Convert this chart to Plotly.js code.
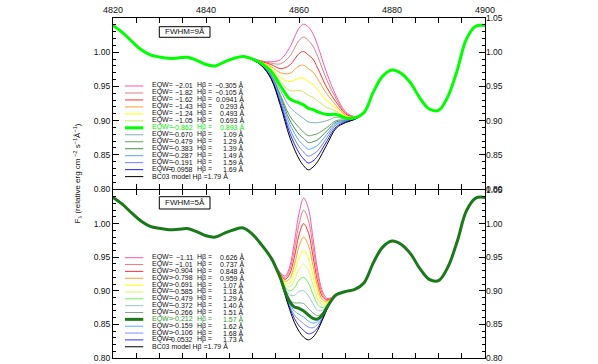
<!DOCTYPE html>
<html>
<head>
<meta charset="utf-8">
<script src="https://cdn.plot.ly/plotly-3.0.1.min.js"></script>
<style>html,body{margin:0;padding:0;background:#fff;}</style>
</head>
<body>
<div id="chart" style="width:598px;height:364px;"></div>
<script>
// continuum wings, shared by every curve (wavelength in Å, relative flux)
var wingLeftX = [4820, 4822, 4824, 4826, 4828, 4830, 4832, 4834, 4836, 4838, 4840, 4842, 4844, 4846, 4848];
var wingLeftY = [1.039, 1.029, 1.016, 1.004, 0.996, 0.993, 0.991, 0.9915, 0.9927, 0.988, 0.982, 0.980, 0.986, 0.991, 0.9936];
var wingRightX = [4874, 4876, 4878, 4880, 4882, 4884, 4886, 4888, 4890, 4892, 4894, 4896, 4898, 4900];
var wingRightY = [0.912, 0.942, 0.965, 0.974, 0.969, 0.955, 0.933, 0.917, 0.915, 0.935, 0.973, 1.019, 1.038, 1.039];

// H-beta region, FWHM = 9 Å panel
var lineX9 = [4850, 4852, 4854, 4856, 4858, 4860, 4861, 4862, 4863, 4864, 4866, 4868, 4870, 4872];
var flux9 = [
  [0.991, 0.987, 0.986, 0.989, 1.007, 1.035, 1.041, 1.037, 1.027, 1.010, 0.969, 0.936, 0.913, 0.906],
  [0.990, 0.987, 0.984, 0.983, 0.994, 1.017, 1.022, 1.017, 1.009, 0.994, 0.959, 0.932, 0.911, 0.906],
  [0.990, 0.986, 0.982, 0.976, 0.981, 0.998, 1.001, 0.996, 0.990, 0.977, 0.948, 0.927, 0.910, 0.905],
  [0.990, 0.985, 0.979, 0.970, 0.969, 0.980, 0.981, 0.976, 0.971, 0.961, 0.939, 0.922, 0.908, 0.905],
  [0.990, 0.985, 0.977, 0.963, 0.957, 0.962, 0.962, 0.957, 0.953, 0.945, 0.929, 0.918, 0.907, 0.905],
  [0.990, 0.984, 0.974, 0.957, 0.944, 0.944, 0.942, 0.937, 0.934, 0.929, 0.919, 0.914, 0.905, 0.904],
  [0.990, 0.983, 0.972, 0.951, 0.932, 0.926, 0.923, 0.918, 0.916, 0.913, 0.909, 0.909, 0.904, 0.904],
  [0.990, 0.982, 0.970, 0.944, 0.920, 0.908, 0.903, 0.898, 0.897, 0.897, 0.900, 0.905, 0.902, 0.903],
  [0.989, 0.982, 0.967, 0.938, 0.907, 0.890, 0.883, 0.878, 0.879, 0.881, 0.890, 0.900, 0.901, 0.903],
  [0.989, 0.981, 0.966, 0.935, 0.901, 0.880, 0.874, 0.868, 0.869, 0.872, 0.885, 0.898, 0.900, 0.903],
  [0.989, 0.981, 0.965, 0.932, 0.895, 0.871, 0.864, 0.858, 0.860, 0.864, 0.880, 0.896, 0.899, 0.903],
  [0.989, 0.981, 0.963, 0.928, 0.888, 0.862, 0.854, 0.848, 0.851, 0.856, 0.875, 0.894, 0.899, 0.902],
  [0.989, 0.980, 0.962, 0.925, 0.882, 0.853, 0.844, 0.838, 0.841, 0.848, 0.870, 0.891, 0.898, 0.902]
];
var model9 = [0.989, 0.980, 0.961, 0.922, 0.876, 0.844, 0.834, 0.828, 0.832, 0.840, 0.865, 0.889, 0.897, 0.902];
var eqw9 = ['−2.01', '−1.82', '−1.62', '−1.43', '−1.24', '−1.05', '−0.862', '−0.670', '−0.479', '−0.383', '−0.287', '−0.191', '−0.0958'];
var hb9 = ['−0.305', '−0.105', '0.0941', '0.293', '0.493', '0.693', '0.893', '1.09', '1.29', '1.39', '1.49', '1.59', '1.69'];
var colors9 = ['#ff55b0', '#e08080', '#ff3030', '#ffa030', '#ffff00', '#c8ee55', '#00ff00', '#7fb2b2', '#5fa05f', '#4a904a', '#50a8ff', '#7080ff', '#2020ff'];
var best9 = 6;

// H-beta region, FWHM = 5 Å panel
var lineX5 = [4850, 4852, 4854, 4855, 4856, 4857, 4858, 4859, 4860, 4861, 4862, 4863, 4864, 4865, 4866, 4867, 4868, 4870, 4872];
var flux5 = [
  [0.984, 0.968, 0.950, 0.937, 0.927, 0.922, 0.936, 0.972, 1.015, 1.038, 1.023, 0.979, 0.931, 0.900, 0.889, 0.890, 0.895, 0.899, 0.902],
  [0.984, 0.968, 0.950, 0.937, 0.926, 0.919, 0.931, 0.961, 0.999, 1.020, 1.005, 0.966, 0.923, 0.896, 0.887, 0.890, 0.895, 0.899, 0.902],
  [0.984, 0.968, 0.950, 0.936, 0.925, 0.917, 0.925, 0.950, 0.983, 1.000, 0.987, 0.952, 0.914, 0.892, 0.886, 0.889, 0.895, 0.899, 0.902],
  [0.984, 0.968, 0.949, 0.936, 0.924, 0.914, 0.918, 0.938, 0.966, 0.980, 0.968, 0.938, 0.906, 0.887, 0.884, 0.889, 0.895, 0.899, 0.902],
  [0.984, 0.968, 0.949, 0.936, 0.923, 0.911, 0.912, 0.927, 0.949, 0.960, 0.949, 0.923, 0.897, 0.883, 0.883, 0.888, 0.895, 0.899, 0.902],
  [0.984, 0.968, 0.949, 0.935, 0.922, 0.909, 0.906, 0.916, 0.932, 0.940, 0.930, 0.909, 0.888, 0.879, 0.881, 0.888, 0.895, 0.899, 0.902],
  [0.984, 0.968, 0.949, 0.935, 0.921, 0.906, 0.900, 0.904, 0.916, 0.920, 0.912, 0.895, 0.880, 0.875, 0.879, 0.887, 0.895, 0.899, 0.902],
  [0.984, 0.968, 0.949, 0.935, 0.920, 0.903, 0.894, 0.893, 0.899, 0.900, 0.893, 0.881, 0.871, 0.871, 0.878, 0.887, 0.894, 0.899, 0.902],
  [0.984, 0.968, 0.949, 0.935, 0.919, 0.901, 0.887, 0.882, 0.882, 0.881, 0.874, 0.867, 0.863, 0.867, 0.876, 0.886, 0.894, 0.899, 0.902],
  [0.984, 0.968, 0.949, 0.935, 0.919, 0.899, 0.884, 0.876, 0.874, 0.870, 0.864, 0.859, 0.858, 0.864, 0.875, 0.886, 0.894, 0.899, 0.902],
  [0.984, 0.968, 0.949, 0.934, 0.918, 0.898, 0.881, 0.870, 0.865, 0.861, 0.855, 0.852, 0.854, 0.862, 0.874, 0.886, 0.894, 0.899, 0.902],
  [0.984, 0.968, 0.949, 0.934, 0.918, 0.897, 0.878, 0.864, 0.857, 0.851, 0.846, 0.845, 0.850, 0.860, 0.874, 0.886, 0.894, 0.899, 0.902],
  [0.984, 0.968, 0.949, 0.934, 0.918, 0.895, 0.875, 0.859, 0.848, 0.841, 0.836, 0.838, 0.845, 0.858, 0.873, 0.885, 0.894, 0.899, 0.902]
];
var model5 = [0.984, 0.968, 0.949, 0.934, 0.917, 0.894, 0.872, 0.853, 0.840, 0.831, 0.827, 0.831, 0.841, 0.856, 0.872, 0.885, 0.894, 0.899, 0.902];
var eqw5 = ['−1.11', '−1.01', '−0.904', '−0.798', '−0.691', '−0.585', '−0.479', '−0.372', '−0.266', '−0.212', '−0.159', '−0.106', '−0.0532'];
var hb5 = ['0.626', '0.737', '0.848', '0.959', '1.07', '1.18', '1.29', '1.40', '1.51', '1.57', '1.62', '1.68', '1.73'];
var colors5 = ['#ff55b0', '#f07878', '#ff3030', '#ffa030', '#ffff00', '#d8f860', '#70f050', '#99c8c8', '#80a888', '#1a7a1a', '#50b0ff', '#8090ff', '#3030ff'];
var best5 = 9;
var modelHb = '1.79';

var leftTicks = [0.80, 0.85, 0.90, 0.95, 1.00];
var rightTicks = [0.80, 0.85, 0.90, 0.95, 1.00, 1.05];

var FONT = 'Liberation Sans, Arial, Helvetica, sans-serif';

// pixel -> paper helpers (plot area is 113..485 x 18..358)
function px(v) { return (v - 113) / 372; }
function py(v) { return (358 - v) / 340; }

var traces = [];
var shapes = [];
var annotations = [];

function addPanel(lineX, flux, model, colors, best, xa, ya) {
  var xs = wingLeftX.concat(lineX, wingRightX);
  var order = [];
  for (var i = 0; i < flux.length; i++) if (i !== best) order.push(i);
  order.push(-1);          // model
  order.push(best);        // highlighted fit on top
  order.forEach(function (i) {
    var ys = wingLeftY.concat(i < 0 ? model : flux[i], wingRightY);
    traces.push({
      type: 'scatter', mode: 'lines', x: xs, y: ys, xaxis: xa, yaxis: ya,
      showlegend: false, hoverinfo: 'skip',
      line: { color: i < 0 ? '#000000' : colors[i], width: i === best ? 3 : 1, shape: 'spline', smoothing: 1 }
    });
  });
}

function addLegend(eqw, hb, colors, best, y0, step, textBest) {
  for (var r = 0; r <= eqw.length; r++) {
    var y = y0 + r * step;
    var isModel = r === eqw.length;
    var col = isModel ? '#000000' : colors[r];
    shapes.push({ type: 'line', xref: 'paper', yref: 'paper', x0: px(125), x1: px(143.3), y0: py(y), y1: py(y),
      line: { color: col, width: r === best ? 3 : 1 } });
    var tc = r === best ? textBest : '#111111';
    var base = { xref: 'paper', yref: 'paper', showarrow: false, yanchor: 'middle', borderpad: 0,
      font: { family: FONT, size: 7, color: tc } };
    if (isModel) {
      annotations.push(Object.assign({}, base, { x: px(150.5), y: py(y - 0.5), xanchor: 'left', text: 'BC03 model Hβ =' + modelHb + ' Å' }));
      continue;
    }
    annotations.push(Object.assign({}, base, { x: px(150.5), y: py(y - 0.5), xanchor: 'left', text: 'EQW=' }));
    annotations.push(Object.assign({}, base, { x: px(193.5), y: py(y - 0.5), xanchor: 'right', text: eqw[r] }));
    annotations.push(Object.assign({}, base, { x: px(195.5), y: py(y - 0.5), xanchor: 'left', text: 'Hβ =' }));
    annotations.push(Object.assign({}, base, { x: px(244.5), y: py(y - 0.5), xanchor: 'right', text: hb[r] + ' Å' }));
  }
}

function fwhmBox(label, top, bottom) {
  shapes.push({ type: 'rect', xref: 'paper', yref: 'paper', x0: px(159.3), x1: px(210), y0: py(bottom), y1: py(top),
    line: { color: '#000000', width: 1 } });
  annotations.push({ xref: 'paper', yref: 'paper', x: px(184.7), y: py((top + bottom) / 2), showarrow: false,
    xanchor: 'center', yanchor: 'middle', text: label, font: { family: FONT, size: 8, color: '#111111' } });
}

addPanel(lineX9, flux9, model9, colors9, best9, 'x', 'y');
addPanel(lineX5, flux5, model5, colors5, best5, 'x2', 'y2');
// empty traces so the right-hand label axes get drawn
traces.push({ type: 'scatter', x: [], y: [], xaxis: 'x', yaxis: 'y3', showlegend: false });
traces.push({ type: 'scatter', x: [], y: [], xaxis: 'x2', yaxis: 'y4', showlegend: false });

addLegend(eqw9, hb9, colors9, best9, 86, 6.97, '#00ee00');
addLegend(eqw5, hb5, colors5, best5, 257.7, 6.85, '#2f962f');
fwhmBox('FWHM=9Å', 26.7, 37.3);
fwhmBox('FWHM=5Å', 196.7, 209);

annotations.push({ xref: 'paper', yref: 'paper', x: px(76.5), y: py(174), showarrow: false, textangle: -90,
  xanchor: 'center', yanchor: 'middle',
  text: 'F<sub>λ</sub> (relative erg cm<sup> −2</sup> s<sup>−1</sup>Å<sup>−1</sup>)',
  font: { family: FONT, size: 8, color: '#111111' } });

var xCommon = {
  range: [4820, 4900], tick0: 4820, dtick: 20, ticks: 'inside', ticklen: 5, tickcolor: '#000',
  showline: true, linecolor: '#000', linewidth: 1, mirror: 'allticks',
  showgrid: false, zeroline: false,
  minor: { dtick: 5, ticks: 'inside', ticklen: 3, tickcolor: '#000' },
  tickfont: { family: FONT, size: 9, color: '#111' }
};
var yCommon = {
  range: [0.80, 1.05], tickvals: leftTicks, tickformat: '.2f', ticks: 'inside', ticklen: 6, tickcolor: '#000',
  showline: true, linecolor: '#000', linewidth: 1, mirror: 'allticks',
  showgrid: false, zeroline: false,
  minor: { dtick: 0.01, ticks: 'inside', ticklen: 3, tickcolor: '#000' },
  tickfont: { family: FONT, size: 8.5, color: '#111' }
};
var yRight = {
  range: [0.80, 1.05], tickvals: rightTicks, tickformat: '.2f', ticks: '', side: 'right',
  showline: false, showgrid: false, zeroline: false,
  tickfont: { family: FONT, size: 8.5, color: '#111' }
};

var layout = {
  width: 598, height: 364,
  margin: { l: 113, r: 113, t: 18, b: 6 },
  paper_bgcolor: '#ffffff', plot_bgcolor: '#ffffff',
  showlegend: false,
  xaxis: Object.assign({}, xCommon, { anchor: 'y', side: 'top' }),
  xaxis2: Object.assign({}, xCommon, { anchor: 'y2', showticklabels: false }),
  yaxis: Object.assign({}, yCommon, { domain: [0.497, 1], anchor: 'x' }),
  yaxis2: Object.assign({}, yCommon, { domain: [0, 0.494], anchor: 'x2' }),
  yaxis3: Object.assign({}, yRight, { overlaying: 'y', anchor: 'x' }),
  yaxis4: Object.assign({}, yRight, { overlaying: 'y2', anchor: 'x2' }),
  shapes: shapes,
  annotations: annotations
};

Plotly.newPlot('chart', traces, layout, { staticPlot: true, displayModeBar: false });
</script>
</body>
</html>
